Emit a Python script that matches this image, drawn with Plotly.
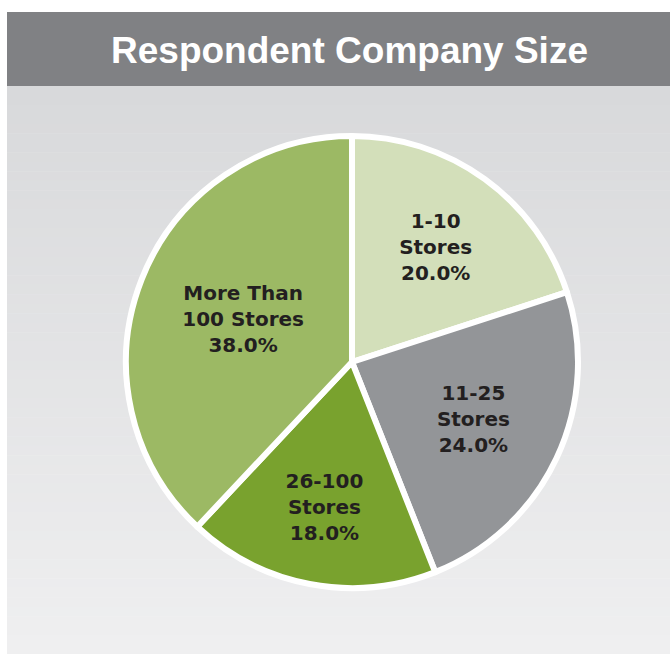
import plotly.graph_objects as go

# Data
categories = ["1-10<br>Stores", "11-25<br>Stores", "26-100<br>Stores", "More Than<br>100 Stores"]
values = [20.0, 24.0, 18.0, 38.0]
colors = ["#d3dfba", "#939598", "#79a22e", "#9cb964"]
title_text = "Respondent Company Size"

W, H = 670, 654
fig = go.Figure()

fig.add_trace(go.Pie(
    labels=categories,
    values=values,
    sort=False,
    direction="clockwise",
    rotation=0,
    marker=dict(colors=colors, line=dict(color="white", width=6)),
    texttemplate="%{label}<br>%{percent:.1%}",
    textposition="inside",
    insidetextorientation="horizontal",
    textfont=dict(family="DejaVu Sans", size=20, color="#231f20", weight="bold"),
    hoverinfo="label+percent",
    showlegend=False,
    domain=dict(x=[(352 - 226) / W, (352 + 226) / W], y=[(654 - 362 - 226) / H, (654 - 362 + 226) / H]),
))

shapes = []
# Title bar
shapes.append(dict(type="rect", xref="paper", yref="paper", x0=7 / W, x1=1, y0=1 - 86 / H, y1=1 - 12 / H,
                   fillcolor="#808184", line=dict(width=0), layer="below"))
# Gradient background panel (banded)
top, bot = 86, 654
n = 60
c0 = (0xd8, 0xd9, 0xdb)
c1 = (0xef, 0xef, 0xf0)
for i in range(n):
    ya = top + (bot - top) * i / n
    yb = top + (bot - top) * (i + 1) / n + 0.5
    t = i / (n - 1)
    c = tuple(round(c0[k] + (c1[k] - c0[k]) * t) for k in range(3))
    shapes.append(dict(type="rect", xref="paper", yref="paper", x0=7 / W, x1=1,
                       y0=1 - min(yb, bot) / H, y1=1 - ya / H,
                       fillcolor="rgb(%d,%d,%d)" % c, line=dict(width=0), layer="below"))

fig.update_layout(
    width=W, height=H,
    margin=dict(l=0, r=0, t=0, b=0),
    paper_bgcolor="white",
    plot_bgcolor="white",
    shapes=shapes,
    annotations=[dict(text=title_text, xref="paper", yref="paper", x=350 / W, y=1 - 50 / H,
                      showarrow=False, xanchor="center", yanchor="middle",
                      font=dict(family="Liberation Sans", size=37, color="white", weight="bold"))],
)

fig.write_html("out.html")
